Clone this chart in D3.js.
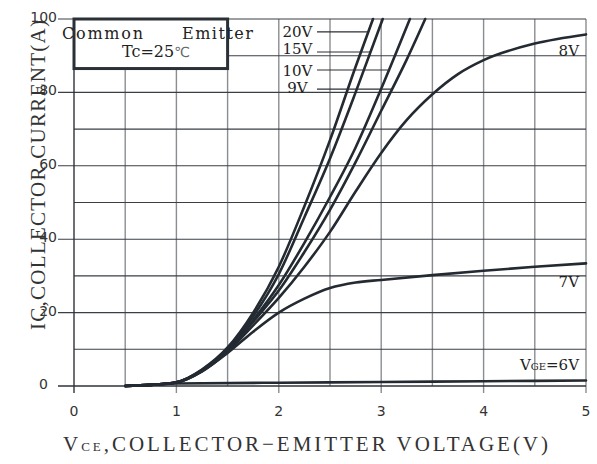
<!DOCTYPE html>
<html><head><meta charset="utf-8">
<script src="https://cdn.jsdelivr.net/npm/d3@7"></script>
<style>
html,body{margin:0;padding:0;background:#fff;}
svg{display:block;}
</style></head><body>
<svg id="chart" width="597" height="464"></svg>
<script>
// Output characteristics: collector current vs collector-emitter voltage, one curve per gate voltage
const gateLabels = ["20V", "15V", "10V", "9V", "8V", "7V", "6V"];

const vce20 = [0.5, 0.75, 1.0, 1.25, 1.5, 1.75, 2.0, 2.25, 2.5, 2.75, 2.92];
const ic20  = [0, 0.3, 1.0, 4.5, 10.5, 20, 32.5, 49, 67, 87, 100];

const vce15 = [0.5, 0.75, 1.0, 1.25, 1.5, 1.75, 2.0, 2.25, 2.5, 2.75, 3.015];
const ic15  = [0, 0.3, 1.0, 4.4, 10.2, 19, 30.5, 46, 62, 80, 100];

const vce10 = [0.5, 0.75, 1.0, 1.25, 1.5, 1.75, 2.0, 2.25, 2.5, 2.75, 3.0, 3.28];
const ic10  = [0, 0.3, 1.0, 4.2, 9.8, 18, 27.5, 39, 51.5, 65, 81, 100];

const vce9 = [0.5, 0.75, 1.0, 1.25, 1.5, 1.75, 2.0, 2.25, 2.5, 2.75, 3.0, 3.25, 3.43];
const ic9  = [0, 0.3, 1.0, 4.1, 9.6, 17.5, 26, 36.5, 48, 61, 75, 89, 100];

const vce8 = [0.5, 0.75, 1.0, 1.25, 1.5, 1.75, 2.0, 2.25, 2.5, 2.75, 3.0, 3.25, 3.5, 3.75, 4.0, 4.5, 5.0];
const ic8  = [0, 0.3, 1.0, 4.0, 9.4, 16.5, 24, 32.5, 42, 53, 63.5, 72.5, 79.5, 85, 88.8, 93.3, 95.8];

const vce7 = [0.5, 0.75, 1.0, 1.25, 1.5, 1.75, 2.0, 2.25, 2.5, 2.75, 3.0, 3.5, 4.0, 4.5, 5.0];
const ic7  = [0, 0.3, 0.9, 4.0, 9.0, 14.8, 20, 23.8, 26.7, 28.2, 28.9, 30.2, 31.4, 32.5, 33.4];

const vce6 = [0.5, 0.75, 1.0, 2.0, 3.0, 4.0, 5.0];
const ic6  = [0, 0.3, 0.7, 0.9, 1.1, 1.3, 1.5];

const xTicks = [0, 1, 2, 3, 4, 5];
const yTicks = [0, 20, 40, 60, 80, 100];

const curves = [
  {name: gateLabels[0], v: vce20, i: ic20},
  {name: gateLabels[1], v: vce15, i: ic15},
  {name: gateLabels[2], v: vce10, i: ic10},
  {name: gateLabels[3], v: vce9,  i: ic9},
  {name: gateLabels[4], v: vce8,  i: ic8},
  {name: gateLabels[5], v: vce7,  i: ic7},
  {name: gateLabels[6], v: vce6,  i: ic6}
];

const svg = d3.select("#chart");
svg.append("rect").attr("width", 597).attr("height", 464).attr("fill", "#fff");

const x = d3.scaleLinear().domain([0, 5]).range([74, 586]);
const y = d3.scaleLinear().domain([0, 100]).range([386, 19]);

const serif = "'DejaVu Serif', serif";
const thinSerif = "'Liberation Serif', serif";
const sans = "'DejaVu Sans', sans-serif";

// grid: vertical every 0.5 V, horizontal every 10 A
const grid = svg.append("g");
grid.selectAll("line.v").data(d3.range(0.5, 5.01, 0.5)).join("line")
  .attr("x1", d => x(d)).attr("x2", d => x(d))
  .attr("y1", y(100)).attr("y2", d => Number.isInteger(d) ? y(0) + 7 : y(0))
  .attr("stroke", "#8a8d91").attr("stroke-width", 1.4);
grid.selectAll("line.h").data(d3.range(10, 100.1, 10)).join("line")
  .attr("x1", d => d % 20 === 0 ? x(0) - 16 : x(0)).attr("x2", x(5))
  .attr("y1", d => y(d)).attr("y2", d => y(d))
  .attr("stroke", "#3a3f46").attr("stroke-width", 1.1);
// axes
svg.append("line").attr("x1", x(0) - 16).attr("x2", x(5)).attr("y1", y(0)).attr("y2", y(0))
  .attr("stroke", "#2e333a").attr("stroke-width", 1.4);
svg.append("line").attr("x1", x(0)).attr("x2", x(0)).attr("y1", y(100)).attr("y2", y(0) + 7)
  .attr("stroke", "#2e333a").attr("stroke-width", 1.4);

// tick labels
svg.append("g").selectAll("text").data(xTicks).join("text")
  .attr("x", d => x(d)).attr("y", y(0) + 30)
  .attr("text-anchor", "middle").attr("font-family", sans).attr("font-size", 14)
  .attr("fill", "#333").text(d => d);
svg.append("g").selectAll("text").data(yTicks).join("text")
  .attr("x", d => d === 0 ? x(0) - 26 : x(0) - 17).attr("y", d => y(d) + 3)
  .attr("text-anchor", "end").attr("font-family", sans).attr("font-size", 14)
  .attr("fill", "#333").text(d => d);

// curves
const line = d3.line().x(d => x(d[0])).y(d => y(d[1])).curve(d3.curveMonotoneX);
svg.append("g").selectAll("path").data(curves).join("path")
  .attr("d", c => line(c.v.map((v, k) => [v, c.i[k]])))
  .attr("fill", "none").attr("stroke", "#242a32").attr("stroke-width", 2.6)
  .attr("stroke-linecap", "round");

// voltage on a curve where it reaches a given current
function vAt(c, current) {
  for (let k = 1; k < c.i.length; k++) {
    if (c.i[k] >= current) {
      const t = (current - c.i[k - 1]) / (c.i[k] - c.i[k - 1]);
      return c.v[k - 1] + t * (c.v[k] - c.v[k - 1]);
    }
  }
  return c.v[c.v.length - 1];
}

// labels with leader lines for the steep curves
const leaders = [
  {c: curves[0], lead: 96.5, base: 36.7},
  {c: curves[1], lead: 91.0, base: 54.3},
  {c: curves[2], lead: 86.1, base: 76.0},
  {c: curves[3], lead: 80.9, base: 93.3}
];
const lg = svg.append("g");
leaders.forEach(d => {
  lg.append("line").attr("x1", 317).attr("x2", x(vAt(d.c, d.lead)))
    .attr("y1", y(d.lead)).attr("y2", y(d.lead))
    .attr("stroke", "#2a2f36").attr("stroke-width", 1.1);
  lg.append("text").attr("x", 297.5).attr("y", d.base)
    .attr("text-anchor", "middle").attr("font-family", serif).attr("font-size", 15)
    .attr("fill", "#222").text(d.c.name);
});

// labels at right edge
svg.append("text").attr("x", 579).attr("y", 56).attr("text-anchor", "end")
  .attr("font-family", serif).attr("font-size", 15).attr("fill", "#222").text(curves[4].name);
svg.append("text").attr("x", 579).attr("y", 287).attr("text-anchor", "end")
  .attr("font-family", serif).attr("font-size", 15).attr("fill", "#222").text(curves[5].name);
const t6 = svg.append("text").attr("x", 579).attr("y", 370).attr("text-anchor", "end")
  .attr("font-family", serif).attr("font-size", 15).attr("fill", "#222");
t6.append("tspan").text("V");
t6.append("tspan").attr("font-size", 10).text("GE");
t6.append("tspan").text("=" + curves[6].name);

// condition box
svg.append("rect").attr("x", x(0)).attr("y", y(100)).attr("width", x(1.5) - x(0))
  .attr("height", y(86.5) - y(100)).attr("fill", "#fff")
  .attr("stroke", "#2b3037").attr("stroke-width", 3);
svg.append("text").attr("x", 62).attr("y", 39).attr("font-family", serif).attr("font-size", 16)
  .attr("fill", "#222").attr("textLength", 81).attr("lengthAdjust", "spacing").text("Common");
svg.append("text").attr("x", 182).attr("y", 39).attr("font-family", serif).attr("font-size", 16)
  .attr("fill", "#222").attr("textLength", 71).attr("lengthAdjust", "spacing").text("Emitter");
const tc = svg.append("text").attr("x", 122).attr("y", 57).attr("font-family", serif).attr("font-size", 16)
  .attr("fill", "#222");
tc.append("tspan").text("Tc=25");
tc.append("tspan").attr("font-family", sans).attr("font-size", 14).attr("fill", "#666").text("\u2103");

// axis titles
const xt = svg.append("text").attr("x", 63).attr("y", 451).attr("font-family", thinSerif)
  .attr("font-size", 21).attr("fill", "#333").attr("textLength", 485).attr("lengthAdjust", "spacing");
xt.append("tspan").text("V");
xt.append("tspan").attr("font-size", 13).text("CE");
xt.append("tspan").text(",COLLECTOR\u2212EMITTER  VOLTAGE(V)");

svg.append("text").attr("transform", "translate(45,330) rotate(-90)")
  .attr("font-family", thinSerif).attr("font-size", 21).attr("fill", "#333")
  .attr("textLength", 310).attr("lengthAdjust", "spacing")
  .text("IC,COLLECTOR CURRENT(A)");
</script>
</body></html>
